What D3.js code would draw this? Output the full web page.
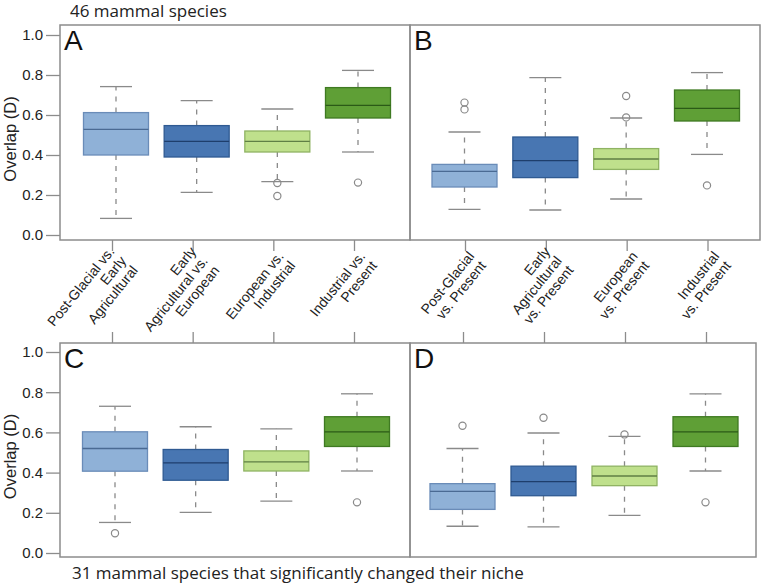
<!DOCTYPE html>
<html><head><meta charset="utf-8">
<script src="https://cdn.jsdelivr.net/npm/d3@7"></script>
<style>
html,body{margin:0;padding:0;background:#fff;}
svg{display:block;}
</style></head>
<body>
<script>
// ---------- data ----------
const labelsPeriods = [["Post-Glacial vs.","Early","Agricultural"],["Early","Agricultural vs.","European"],["European vs.","Industrial"],["Industrial vs.","Present"]];
const labelsPresent = [["Post-Glacial","vs. Present"],["Early","Agricultural","vs. Present"],["European","vs. Present"],["Industrial","vs. Present"]];
const categories = ["c1","c2","c3","c4"];
const yTicks = [0.0,0.2,0.4,0.6,0.8,1.0];
const titleTop = "46 mammal species";
const titleBottom = "31 mammal species that significantly changed their niche";
// [lower whisker, Q1, median, Q3, upper whisker]
const statsA = [[0.083,0.40,0.528,0.612,0.742],[0.213,0.39,0.468,0.547,0.672],[0.267,0.415,0.468,0.52,0.63],[0.415,0.585,0.648,0.737,0.823]];
const outliersA = [[],[],[0.26,0.195],[0.262]];
const statsB = [[0.128,0.24,0.318,0.353,0.515],[0.125,0.287,0.372,0.49,0.787],[0.18,0.328,0.38,0.432,0.585],[0.403,0.57,0.633,0.725,0.812]];
const outliersB = [[0.662,0.628],[],[0.695,0.588],[0.248]];
const statsC = [[0.152,0.407,0.52,0.603,0.73],[0.202,0.362,0.448,0.515,0.628],[0.258,0.408,0.453,0.508,0.618],[0.408,0.53,0.603,0.678,0.792]];
const outliersC = [[0.098],[],[],[0.252]];
const statsD = [[0.133,0.217,0.307,0.345,0.52],[0.13,0.285,0.355,0.432,0.597],[0.187,0.335,0.383,0.432,0.58],[0.408,0.53,0.603,0.678,0.792]];
const outliersD = [[0.633],[0.673],[0.59],[0.252]];
const fills = ["#8fb1d7","#4876b2","#bfe08c","#5f9f36"];
const strokes = ["#6a8cb8","#2f5a92","#8fb363","#3f7a22"];
const medians = ["#4a6a93","#1e3e6c","#5f7f45","#2b5a17"];

// ---------- layout ----------
const W = 762, H = 584;
const SANS = "'Liberation Sans', Arial, Helvetica, sans-serif";
const HUM = "'Open Sans', 'Noto Sans', sans-serif";
const svg = d3.select("body").append("svg").attr("width",W).attr("height",H);

const panels = [
  {id:"A", stats:statsA, out:outliersA, frame:[60,25,410,240], y0:235, y1:35, xr:[116,358], tickOff:-4, axis:"bottom", yaxis:true},
  {id:"B", stats:statsB, out:outliersB, frame:[410,25,760,240], y0:235, y1:35, xr:[464.5,707], tickOff:0.5, axis:"bottom", yaxis:false},
  {id:"C", stats:statsC, out:outliersC, frame:[60,343,410,557], y0:553, y1:352, xr:[115,357], tickOff:-3, axis:"top", yaxis:true},
  {id:"D", stats:statsD, out:outliersD, frame:[410,343,756,557], y0:553, y1:352, xr:[462.5,705.5], tickOff:0.5, axis:"top", yaxis:false}
];

const boxW = 65, capW = 32;

panels.forEach(p => {
  const y = d3.scaleLinear().domain([0,1]).range([p.y0,p.y1]);
  const x = d3.scalePoint().domain(categories).range(p.xr);
  const g = svg.append("g");
  const [fx0,fy0,fx1,fy1] = p.frame;

  g.append("rect").attr("x",fx0).attr("y",fy0).attr("width",fx1-fx0).attr("height",fy1-fy0)
    .attr("fill","none").attr("stroke","#8c8c8c").attr("stroke-width",1.5);

  if (p.yaxis) {
    const ax = g.append("g").attr("transform",`translate(${fx0},0)`)
      .call(d3.axisLeft(y).tickValues(yTicks).tickFormat(d3.format(".1f")).tickSize(14).tickPadding(3));
    ax.select(".domain").remove();
    ax.selectAll(".tick line").attr("stroke","#8c8c8c").attr("stroke-width",1.3);
    ax.selectAll(".tick text").attr("fill","#222").style("font-size","15px").style("font-family",SANS);
    g.append("text").attr("transform",`translate(16,${(p.y0+p.y1)/2 + 4}) rotate(-90)`)
      .attr("text-anchor","middle").attr("fill","#222").style("font-size","16.5px").style("font-family",SANS).text("Overlap (D)");
  }

  const xt = d3.scalePoint().domain(categories).range([p.xr[0]+p.tickOff, p.xr[1]+p.tickOff]);
  const axGen = p.axis==="bottom" ? d3.axisBottom(xt) : d3.axisTop(xt);
  const xa = g.append("g").attr("transform",`translate(0,${p.axis==="bottom"?fy1:fy0})`)
    .call(axGen.tickSize(11).tickFormat(""));
  xa.select(".domain").remove();
  xa.selectAll(".tick line").attr("stroke","#8c8c8c").attr("stroke-width",1.3);

  const bx = g.selectAll("g.box").data(p.stats).enter().append("g").attr("class","box")
    .attr("transform",(d,i)=>`translate(${x(categories[i])},0)`);
  bx.append("line").attr("x1",0).attr("x2",0).attr("y1",d=>y(d[3])).attr("y2",d=>y(d[4]))
    .attr("stroke","#8a8a8a").attr("stroke-width",1.3).attr("stroke-dasharray","5,6");
  bx.append("line").attr("x1",0).attr("x2",0).attr("y1",d=>y(d[1])).attr("y2",d=>y(d[0]))
    .attr("stroke","#8a8a8a").attr("stroke-width",1.3).attr("stroke-dasharray","5,6");
  bx.append("line").attr("x1",-capW/2).attr("x2",capW/2).attr("y1",d=>y(d[4])).attr("y2",d=>y(d[4]))
    .attr("stroke","#8a8a8a").attr("stroke-width",1.3);
  bx.append("line").attr("x1",-capW/2).attr("x2",capW/2).attr("y1",d=>y(d[0])).attr("y2",d=>y(d[0]))
    .attr("stroke","#8a8a8a").attr("stroke-width",1.3);
  bx.append("rect").attr("x",-boxW/2).attr("width",boxW)
    .attr("y",d=>y(d[3])).attr("height",d=>y(d[1])-y(d[3]))
    .attr("fill",(d,i)=>fills[i]).attr("stroke",(d,i)=>strokes[i]).attr("stroke-width",1.3);
  bx.append("line").attr("x1",-boxW/2).attr("x2",boxW/2).attr("y1",d=>y(d[2])).attr("y2",d=>y(d[2]))
    .attr("stroke",(d,i)=>medians[i]).attr("stroke-width",1.3);
  p.out.forEach((arr,i)=>{
    g.selectAll(null).data(arr).enter().append("circle")
      .attr("cx",x(categories[i])).attr("cy",d=>y(d)).attr("r",3.6)
      .attr("fill","none").attr("stroke","#8a8a8a").attr("stroke-width",1.2);
  });

  g.append("text").attr("x",fx0+4).attr("y",fy0+25).attr("fill","#111")
    .style("font-size","28px").style("font-family",SANS).text(p.id);
});

function drawLabels(lbls, xr, ox, oy) {
  const x = d3.scalePoint().domain(categories).range(xr);
  lbls.forEach((lines,i)=>{
    const t = svg.append("text")
      .attr("transform",`translate(${x(categories[i])+ox},${oy}) rotate(-51)`)
      .attr("text-anchor","end").attr("fill","#222")
      .style("font-size","14px").style("font-family",SANS);
    const n = lines.length;
    lines.forEach((s,j)=>{
      t.append("tspan").attr("x",0).attr("y",(j-(n-1)/2)*15 + 5).text(s);
    });
  });
}
drawLabels(labelsPeriods, [110,355], 13, 258);
drawLabels(labelsPresent, [464,709], 13, 258);

svg.append("text").attr("x",70).attr("y",17).attr("fill","#222")
  .style("font-family",HUM).style("font-size","17px").text(titleTop);
svg.append("text").attr("x",72).attr("y",579).attr("fill","#222")
  .style("font-family",HUM).style("font-size","17px").text(titleBottom);
</script>
</body></html>
